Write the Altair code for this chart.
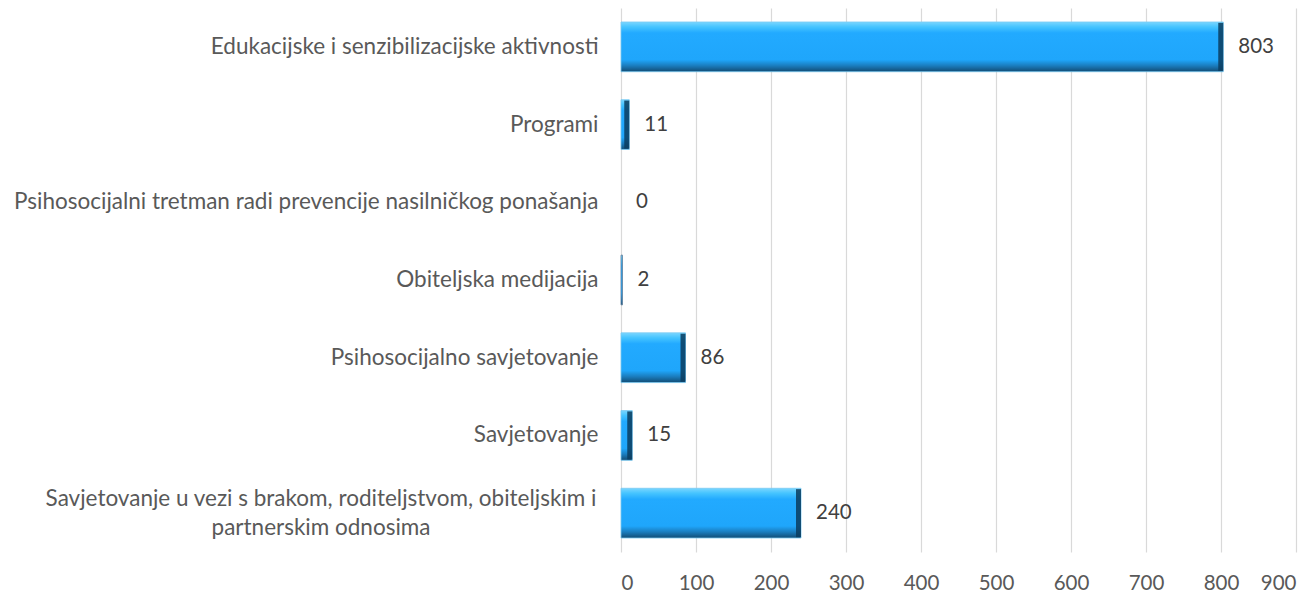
import altair as alt
import pandas as pd

categories = [
    "Edukacijske i senzibilizacijske aktivnosti",
    "Programi",
    "Psihosocijalni tretman radi prevencije nasilničkog ponašanja",
    "Obiteljska medijacija",
    "Psihosocijalno savjetovanje",
    "Savjetovanje",
    "Savjetovanje u vezi s brakom, roditeljstvom, obiteljskim i partnerskim odnosima",
]
values = [803, 11, 0, 2, 86, 15, 240]
x_ticks = [0, 100, 200, 300, 400, 500, 600, 700, 800, 900]

# the last category label is shown on two lines
wrapped_text = "Savjetovanje u vezi s brakom, roditeljstvom, obiteljskim i\npartnerskim odnosima"

df = pd.DataFrame({"cat": categories, "value": values})
wrap_df = pd.DataFrame({"cat": [categories[-1]], "text": [wrapped_text]})

FONT = "Lato"
CAT_SIZE = 22.5
NUM_SIZE = 20.5

label_expr = f"datum.label == '{categories[-1]}' ? '' : datum.label"

y_enc = alt.Y(
    "cat:N",
    sort=categories,
    scale=alt.Scale(paddingInner=0.36, paddingOuter=0.18),
    axis=alt.Axis(
        title=None,
        domain=False,
        ticks=False,
        grid=False,
        labelFont=FONT,
        labelFontSize=CAT_SIZE,
        labelColor="#595959",
        labelPadding=23,
        labelLimit=800,
        labelExpr=label_expr,
    ),
)

x_scale = alt.Scale(domain=[0, 900], nice=False)
x_enc = alt.X(
    "value:Q",
    scale=x_scale,
    axis=alt.Axis(
        title=None,
        values=x_ticks,
        domain=False,
        ticks=False,
        grid=True,
        gridColor="#d9d9d9",
        gridWidth=1.2,
        labelFont=FONT,
        labelFontSize=NUM_SIZE,
        labelColor="#595959",
        labelPadding=21,
    ),
)

gradient = alt.Gradient(
    gradient="linear",
    x1=0, x2=0, y1=0, y2=1,
    stops=[
        alt.GradientStop(color="#7ad6ff", offset=0),
        alt.GradientStop(color="#45c4ff", offset=0.1),
        alt.GradientStop(color="#22aaff", offset=0.22),
        alt.GradientStop(color="#1fa6fb", offset=0.76),
        alt.GradientStop(color="#1a7cbd", offset=0.88),
        alt.GradientStop(color="#124c74", offset=1),
    ],
)

bars = alt.Chart(df).mark_bar(fill=gradient, strokeWidth=0.8).encode(
    y=y_enc,
    x=x_enc,
    stroke=alt.condition("datum.value > 5", alt.value("#79c9f2"), alt.value("#5f7f9c")),
    strokeOpacity=alt.condition("datum.value > 0", alt.value(1), alt.value(0)),
)

edge = alt.Chart(df).transform_filter("datum.value > 5").mark_tick(
    color="#0b3c5e", thickness=5, size=48, xOffset=-2.5, opacity=0.85
).encode(y=alt.Y("cat:N", sort=categories), x=alt.X("value:Q", scale=x_scale))

labels = alt.Chart(df).mark_text(
    align="left", baseline="middle", dx=15, font=FONT, fontSize=NUM_SIZE, color="#404040"
).encode(
    y=alt.Y("cat:N", sort=categories),
    x=alt.X("value:Q", scale=x_scale),
    text=alt.Text("value:Q"),
)

wrapped = alt.Chart(wrap_df).mark_text(
    align="center", baseline="middle", dx=-300, dy=-14, lineBreak="\n", lineHeight=29,
    font=FONT, fontSize=CAT_SIZE, color="#595959",
).encode(
    y=alt.Y("cat:N", sort=categories),
    x=alt.datum(0, scale=x_scale),
    text="text:N",
)

chart = (
    alt.layer(bars, edge, labels, wrapped)
    .properties(
        width=675,
        height=544,
        autosize=alt.AutoSizeParams(type="none"),
        padding={"left": 613, "top": 0, "right": 10, "bottom": 50},
    )
    .configure_view(stroke=None)
)

chart.save("out.html", embed_options={"renderer": "svg", "actions": False})
